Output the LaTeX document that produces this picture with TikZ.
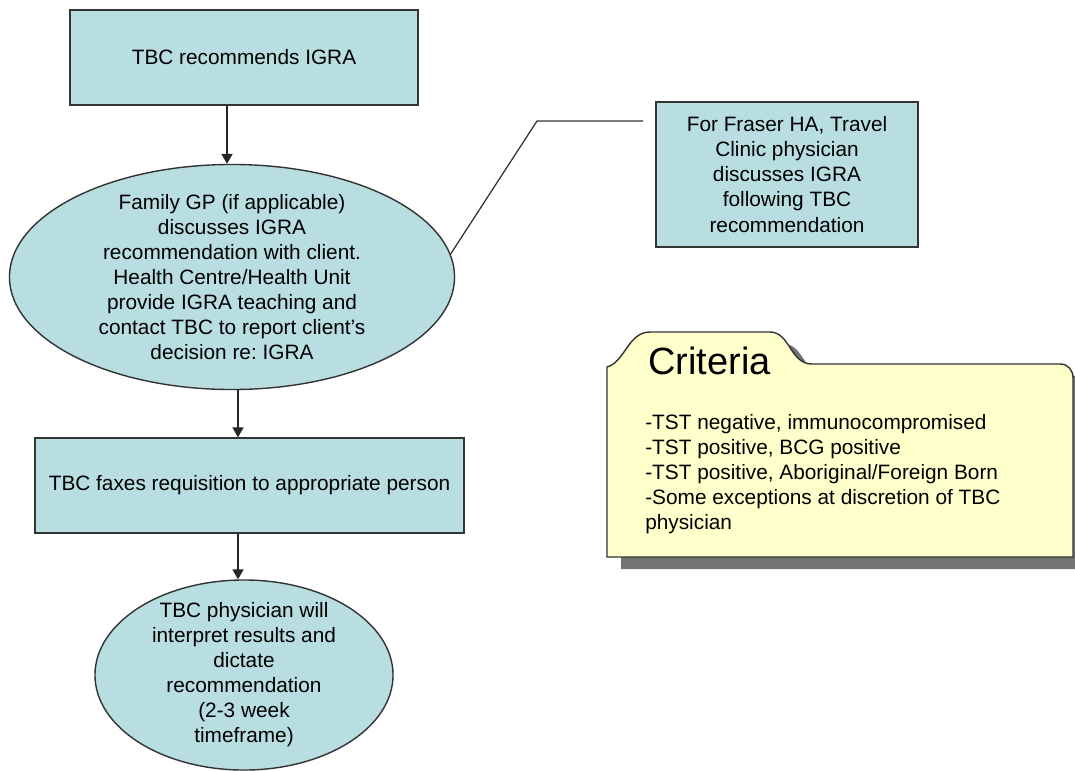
\documentclass[tikz,border=0pt]{standalone}
\usepackage{fontspec}
\setmainfont{Liberation Sans}
\usetikzlibrary{positioning}
\usetikzlibrary{arrows}
\usetikzlibrary{shapes.geometric}
\definecolor{stepfill}{RGB}{185,222,226}
\definecolor{notefill}{RGB}{255,255,204}
\tikzstyle{every link} = [line width=0.9pt]
\tikzstyle{link} = [>=triangle 60, ->, draw=black!85, every link]
\frenchspacing

\begin{document}
\begin{tikzpicture}[x=0.025cm, y=-0.025cm, font=\fontsize{14.8pt}{17.8pt}\selectfont]
        \tikzstyle{process} = [rectangle, draw=black!80, fill=stepfill, line width=1pt, align=center]
        \tikzstyle{phase} = [ellipse, draw=black!80, fill=stepfill, line width=1pt, inner sep=0pt]
        \useasboundingbox (0,0) rectangle (1075,770);

        \node[process, minimum width=8.7cm, minimum height=2.375cm] (recommend) at (244,57.5) {TBC recommends IGRA};
        \node[phase, minimum width=11.125cm, minimum height=5.625cm,
            label={[align=center]center:Family GP (if applicable)\\discusses IGRA\\recommendation with client.\\Health Centre/Health Unit\\provide IGRA teaching and\\contact TBC to report client's\\decision re: IGRA}] (discuss) at (232,277) {};
        \node[process, minimum width=10.725cm, minimum height=2.375cm] (faxes) at (249.5,485.5) {TBC faxes requisition to appropriate person};
        \node[phase, minimum width=7.45cm, minimum height=4.75cm,
            label={[align=center]center:TBC physician will\\interpret results and\\dictate\\recommendation\\(2-3 week\\timeframe)}] (interpret) at (244,675) {};

        \coordinate (discussin) at ([xshift=-0.125cm]discuss.north);
        \coordinate (discussout) at ([xshift=0.15cm]discuss.south);
        \coordinate (interpretin) at ([xshift=-0.15cm]interpret.north);
        \draw[link] (recommend.south -| discussin) -- (discussin);
        \draw[link] (discussout) -- (discussout |- faxes.north);
        \draw[link] (faxes.south -| interpretin) -- (interpretin);

        \node[process, minimum width=6.55cm, minimum height=3.625cm] (fraser) at (787,174.5) {For Fraser HA, Travel\\Clinic physician\\discusses IGRA\\following TBC\\recommendation};
        \coordinate (elbow) at (537,121);
        \coordinate (fraserend) at (643,121);
        \draw[black!80, line width=0.9pt] (discuss.6) -- (elbow) -- (fraserend);

        % criteria folder
        \fill[black!55, shift={(14,12)}] (607,557) -- (607,367) .. controls (625,362) and (628,332) .. (650,332)
            -- (770,332) .. controls (790,332) and (790,364) .. (812,364) -- (1060,364)
            .. controls (1068,364) and (1073,370) .. (1073,378) -- (1073,557) -- cycle;
        \draw[black!80, line width=1pt, fill=notefill] (607,557) -- (607,367) .. controls (625,362) and (628,332) .. (650,332)
            -- (770,332) .. controls (790,332) and (790,364) .. (812,364) -- (1060,364)
            .. controls (1068,364) and (1073,370) .. (1073,378) -- (1073,557) -- cycle;
        \node[anchor=base west, inner sep=0pt, font=\fontsize{27pt}{30pt}\selectfont] (criteria) at (648,374) {Criteria};
        \node[anchor=north west, align=left, inner sep=0pt] (criterialist) at (645,414) {-TST negative, immunocompromised\\-TST positive, BCG positive\\-TST positive, Aboriginal/Foreign Born\\-Some exceptions at discretion of TBC\\physician};
\end{tikzpicture}
\end{document}
